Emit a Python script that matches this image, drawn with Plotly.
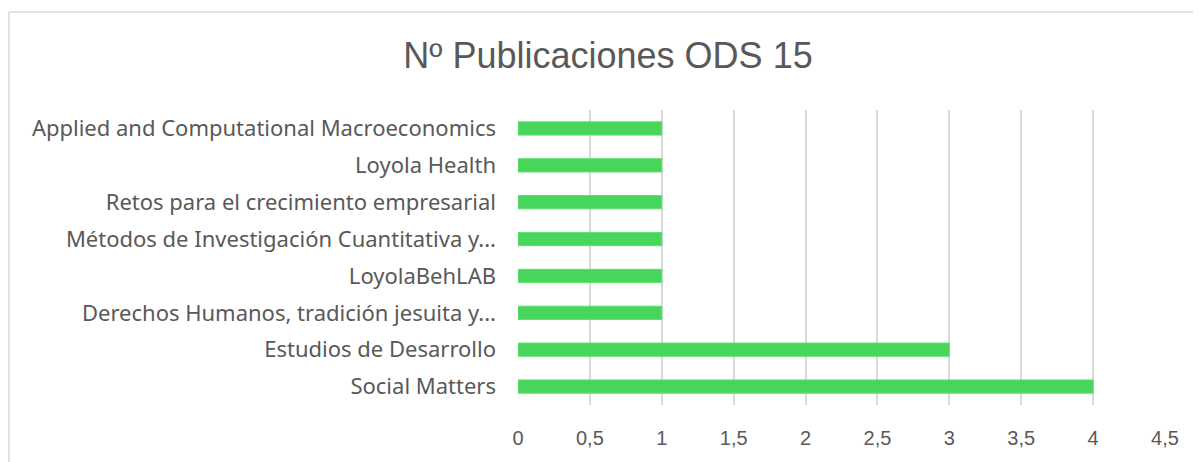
import plotly.graph_objects as go

categories = [
    "Applied and Computational Macroeconomics",
    "Loyola Health",
    "Retos para el crecimiento empresarial",
    "Métodos de Investigación Cuantitativa y...",
    "LoyolaBehLAB",
    "Derechos Humanos, tradición jesuita y...",
    "Estudios de Desarrollo",
    "Social Matters",
]
values = [1, 1, 1, 1, 1, 1, 3, 4]
tick_vals = [0, 0.5, 1, 1.5, 2, 2.5, 3, 3.5, 4, 4.5]
tick_text = ["0", "0,5", "1", "1,5", "2", "2,5", "3", "3,5", "4", "4,5"]

# page body has an 8px margin; figure is sized/positioned to compensate
OFF = 8
W, H = 1201 - OFF, 462 - OFF
L, T = 518 - OFF, 110 - OFF
R, B = W - (1165 - OFF), H - (405 - OFF)

fig = go.Figure(go.Bar(
    x=values, y=categories, orientation="h",
    marker=dict(color="#47D65B", line=dict(color="#5FE070", width=1)),
))

pw = W - L - R
ph = H - T - B
def px_x(p):
    return (p - OFF - L) / pw
def px_y(p):
    return 1 - (p - OFF - T) / ph

fig.update_layout(
    width=W, height=H,
    margin=dict(l=L, r=R, t=T, b=B, autoexpand=False),
    paper_bgcolor="white", plot_bgcolor="white",
    bargap=0.64,
    showlegend=False,
    title=dict(text="Nº Publicaciones ODS 15", x=(608 - OFF) / W, xanchor="center", xref="container",
               y=1 - (55 - OFF) / H, yanchor="middle", yref="container",
               font=dict(family="Liberation Sans", size=36, color="#595959")),
    font=dict(family="Noto Sans", color="#595959"),
    xaxis=dict(range=[0, 4.5], tickvals=tick_vals, ticktext=tick_text,
               showgrid=True, gridcolor="#D9D9D9", gridwidth=1.5,
               zeroline=False, showline=False, ticks="", automargin=False,
               ticklabelstandoff=19,
               tickfont=dict(family="Liberation Sans", size=20, color="#595959")),
    yaxis=dict(autorange="reversed", showgrid=False, zeroline=False, showline=False,
               ticks="", ticklabelstandoff=21, automargin=False,
               tickfont=dict(family="Noto Sans", size=22, color="#595959")),
    shapes=[
        dict(type="line", xref="paper", yref="paper",
             x0=px_x(9), x1=px_x(1200), y0=px_y(12), y1=px_y(12),
             line=dict(color="#D9D9D9", width=1.5)),
        dict(type="line", xref="paper", yref="paper",
             x0=px_x(9), x1=px_x(9), y0=px_y(12), y1=px_y(462),
             line=dict(color="#D9D9D9", width=1.5)),
        dict(type="line", xref="paper", yref="paper",
             x0=px_x(1199), x1=px_x(1199), y0=px_y(12), y1=px_y(462),
             line=dict(color="#D9D9D9", width=1.5)),
    ],
)

fig.write_html("out.html")
